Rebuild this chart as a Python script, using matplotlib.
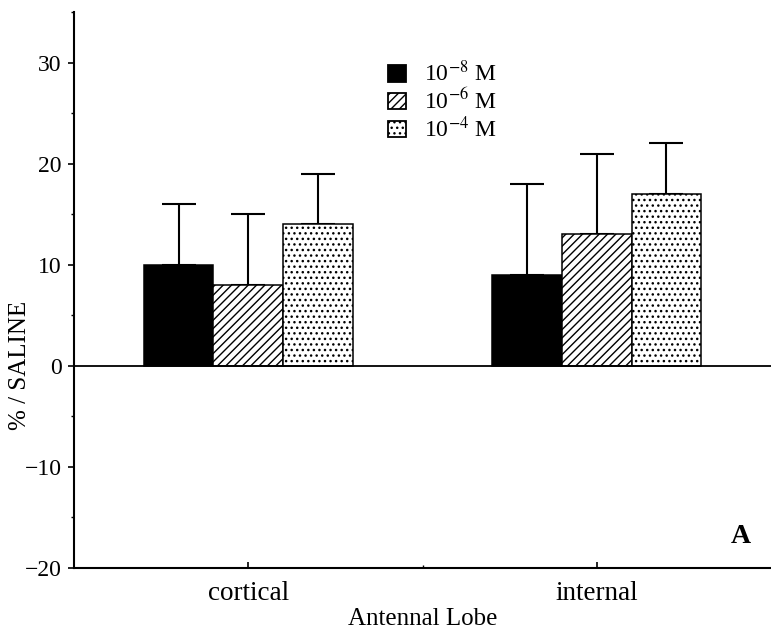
import matplotlib
matplotlib.use("Agg")
import matplotlib.pyplot as plt
from matplotlib.patches import Patch
from matplotlib.ticker import MultipleLocator, FixedLocator
import numpy as np

plt.rcParams["font.family"] = ["Liberation Serif", "DejaVu Serif"]
plt.rcParams["mathtext.fontset"] = "stix"
plt.rcParams["hatch.linewidth"] = 1.0
plt.rcParams["hatch.color"] = "black"

# Data
regions = ["cortical", "internal"]
concentrations = [r"10$^{-8}$ M", r"10$^{-6}$ M", r"10$^{-4}$ M"]
means = {
    r"10$^{-8}$ M": [10, 9],
    r"10$^{-6}$ M": [8, 13],
    r"10$^{-4}$ M": [14, 17],
}
sem = {
    r"10$^{-8}$ M": [6, 9],
    r"10$^{-6}$ M": [7, 8],
    r"10$^{-4}$ M": [5, 5],
}
y_ticks = [-20, -10, 0, 10, 20, 30]

fills = ["black", "white", "white"]
hatches = [None, "////", "..."]

fig = plt.figure(figsize=(7.71, 6.30), dpi=100)
ax = fig.add_axes([0.096, 0.0984, 0.904, 0.8826])

x = np.arange(len(regions))
width = 0.2
offsets = [-width, 0.0, width]

handles = []
for conc, off, fc, h in zip(concentrations, offsets, fills, hatches):
    ax.bar(x + off, means[conc], width, color=fc, edgecolor="black",
           linewidth=1.1, hatch=h, zorder=3)
    ax.errorbar(x + off, means[conc],
                yerr=[np.zeros(len(regions)), sem[conc]],
                fmt="none", ecolor="black", elinewidth=1.5,
                capsize=12.5, capthick=1.5, zorder=2)
    handles.append(Patch(facecolor=fc, edgecolor="black", linewidth=1.3,
                         hatch=h, label=conc))

ax.axhline(0, color="black", linewidth=1.3, zorder=4)

ax.set_xlim(-0.5, 1.5)
ax.set_ylim(-20, 35)

ax.spines["top"].set_visible(False)
ax.spines["right"].set_visible(False)
ax.spines["left"].set_linewidth(1.5)
ax.spines["bottom"].set_linewidth(1.5)

ax.yaxis.set_major_locator(FixedLocator(y_ticks))
ax.yaxis.set_minor_locator(MultipleLocator(5))
ax.tick_params(axis="y", which="major", direction="out", length=4,
               width=1.2, labelsize=17, pad=5)
ax.tick_params(axis="y", which="minor", direction="out", length=2.5,
               width=1.0)

ax.set_xticks(x)
ax.set_xticklabels(regions)
ax.xaxis.set_minor_locator(FixedLocator([0.5]))
ax.tick_params(axis="x", which="major", direction="in", length=4,
               width=1.2, labelsize=19.5, pad=9)
ax.tick_params(axis="x", which="minor", direction="in", length=2.5,
               width=1.0)

ax.set_xlabel("Antennal Lobe", fontsize=18, labelpad=2)
ax.set_ylabel("% / SALINE", fontsize=18)
ax.yaxis.set_label_coords(-0.062, 0.365)

ax.text(0.957, 0.056, "A", transform=ax.transAxes, fontsize=20,
        fontweight="bold", ha="center", va="center")

ax.legend(handles=handles, loc="upper left",
          bbox_to_anchor=(0.451, 0.912), frameon=False, fontsize=17,
          handlelength=0.75, handleheight=0.7, handletextpad=0.75,
          labelspacing=0.1, borderpad=0, borderaxespad=0)

fig.savefig("out.png", dpi=100)
